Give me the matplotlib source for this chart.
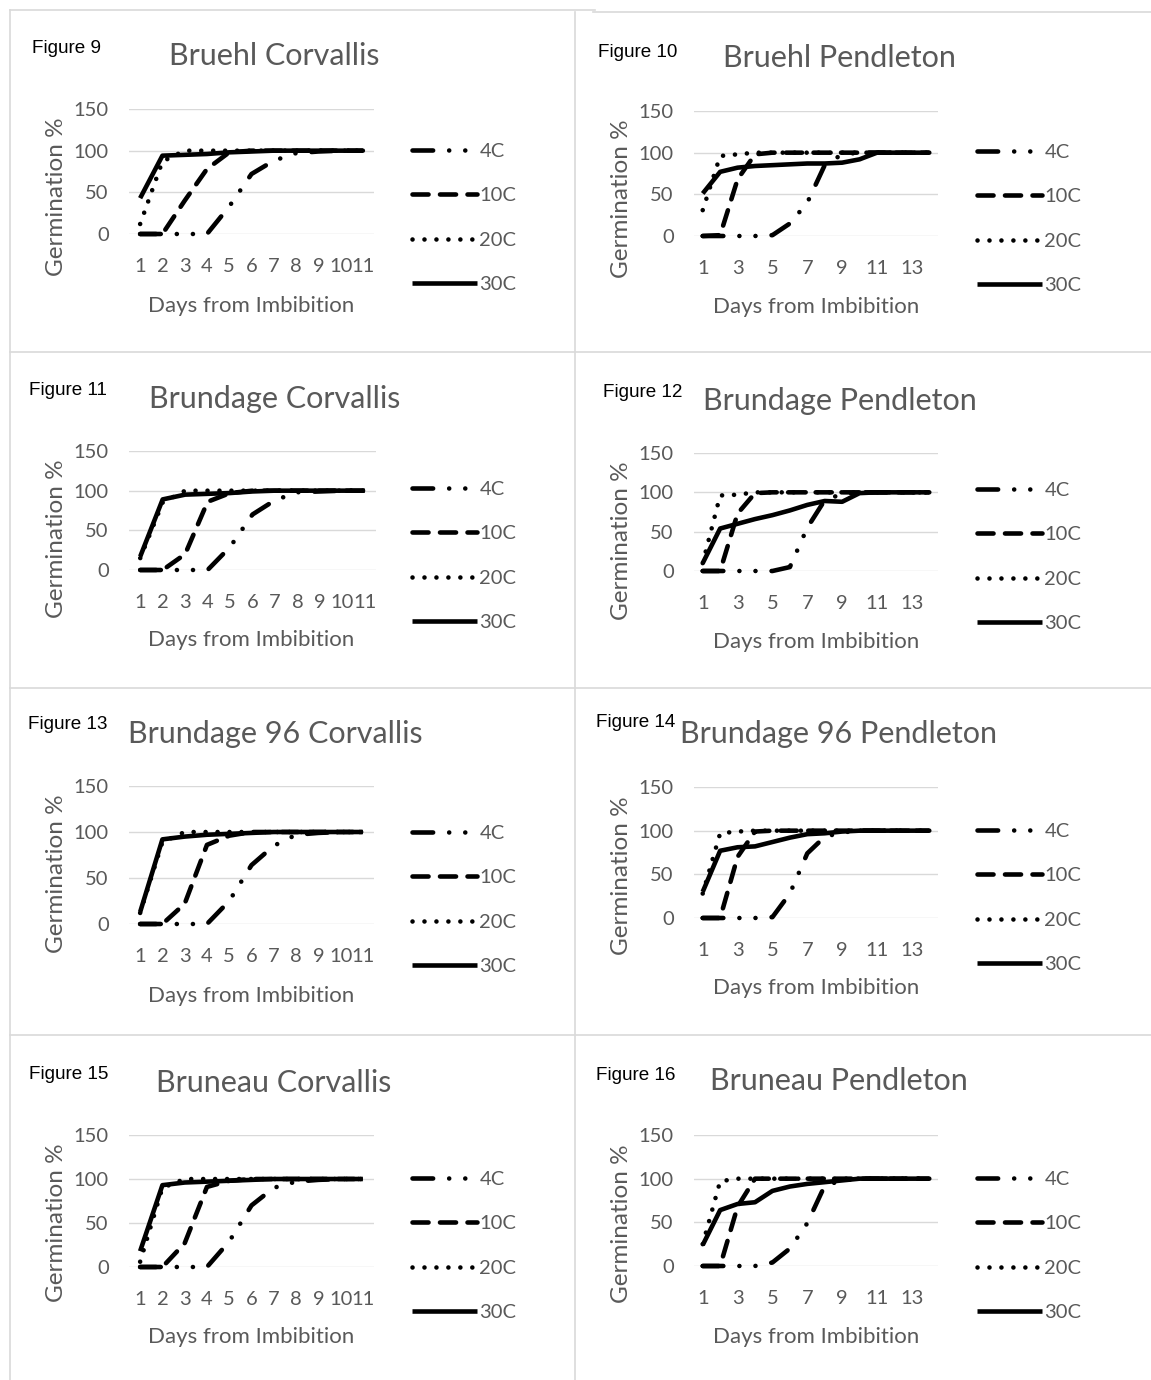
import matplotlib
matplotlib.use("Agg")
import matplotlib.pyplot as plt
from matplotlib.lines import Line2D

plt.rcParams['font.family'] = ['Lato', 'DejaVu Sans']

# ---------------- data ----------------
days_corvallis = list(range(1, 12))
days_pendleton = list(range(1, 15))
series_labels = ["4C", "10C", "20C", "30C"]
yticks = [0, 50, 100, 150]
xticks_corvallis = list(range(1, 12))
xticks_pendleton = [1, 3, 5, 7, 9, 11, 13]

fig9_4C = [0, 0, 0, 0, 33, 72, 88, 97, 99, 100, 100]
fig9_10C = [0, 0, 40, 78, 98, 100, 100, 100, 100, 100, 100]
fig9_20C = [12, 87, 100, 100, 100, 100, 100, 100, 100, 100, 100]
fig9_30C = [43, 94, 95, 96, 98, 99, 100, 100, 100, 100, 100]

fig10_4C = [0, 0, 0, 0, 1, 15, 40, 85, 98, 100, 100, 100, 100, 100]
fig10_10C = [0, 1, 68, 98, 100, 100, 100, 100, 100, 100, 100, 100, 100, 100]
fig10_20C = [31, 96, 98, 100, 100, 100, 100, 100, 100, 100, 100, 100, 100, 100]
fig10_30C = [51, 77, 82, 84, 85, 86, 87, 87, 88, 92, 100, 100, 100, 100]

fig11_4C = [0, 0, 0, 0, 29, 70, 88, 98, 99, 100, 100]
fig11_10C = [0, 0, 20, 86, 97, 100, 100, 100, 100, 100, 100]
fig11_20C = [15, 85, 100, 100, 100, 100, 100, 100, 100, 100, 100]
fig11_30C = [17, 89, 95, 96, 97, 99, 100, 100, 100, 100, 100]

fig12_4C = [0, 0, 0, 0, 0, 5, 55, 90, 98, 100, 100, 100, 100, 100]
fig12_10C = [0, 0, 73, 99, 100, 100, 100, 100, 100, 100, 100, 100, 100, 100]
fig12_20C = [10, 96, 97, 100, 100, 100, 100, 100, 100, 100, 100, 100, 100, 100]
fig12_30C = [10, 54, 60, 66, 71, 77, 84, 89, 88, 99, 100, 100, 100, 100]

fig13_4C = [0, 0, 0, 0, 25, 64, 85, 97, 99, 100, 100]
fig13_10C = [0, 0, 22, 86, 96, 100, 100, 100, 100, 100, 100]
fig13_20C = [12, 89, 100, 100, 100, 100, 100, 100, 100, 100, 100]
fig13_30C = [13, 92, 95, 97, 98, 99, 100, 100, 100, 100, 100]

fig14_4C = [0, 0, 0, 0, 1, 28, 74, 93, 98, 100, 100, 100, 100, 100]
fig14_10C = [0, 0, 70, 99, 100, 100, 100, 100, 100, 100, 100, 100, 100, 100]
fig14_20C = [28, 97, 99, 100, 100, 100, 100, 100, 100, 100, 100, 100, 100, 100]
fig14_30C = [30, 77, 81, 82, 87, 92, 96, 97, 99, 100, 100, 100, 100, 100]

fig15_4C = [0, 0, 0, 0, 29, 70, 90, 97, 99, 100, 100]
fig15_10C = [0, 0, 27, 91, 98, 100, 100, 100, 100, 100, 100]
fig15_20C = [6, 90, 100, 100, 100, 100, 100, 100, 100, 100, 100]
fig15_30C = [18, 93, 96, 97, 98, 99, 100, 100, 100, 100, 100]

fig16_4C = [0, 0, 0, 0, 4, 20, 49, 92, 98, 100, 100, 100, 100, 100]
fig16_10C = [0, 0, 68, 100, 100, 100, 100, 100, 100, 100, 100, 100, 100, 100]
fig16_20C = [25, 97, 100, 100, 100, 100, 100, 100, 100, 100, 100, 100, 100, 100]
fig16_30C = [24, 64, 71, 73, 86, 91, 94, 96, 98, 100, 100, 100, 100, 100]

figure_labels = ["Figure 9", "Figure 10", "Figure 11", "Figure 12",
                 "Figure 13", "Figure 14", "Figure 15", "Figure 16"]
titles = ["Bruehl Corvallis", "Bruehl Pendleton", "Brundage Corvallis",
          "Brundage Pendleton", "Brundage 96 Corvallis", "Brundage 96 Pendleton",
          "Bruneau Corvallis", "Bruneau Pendleton"]
series_data = [
    [fig9_4C, fig9_10C, fig9_20C, fig9_30C],
    [fig10_4C, fig10_10C, fig10_20C, fig10_30C],
    [fig11_4C, fig11_10C, fig11_20C, fig11_30C],
    [fig12_4C, fig12_10C, fig12_20C, fig12_30C],
    [fig13_4C, fig13_10C, fig13_20C, fig13_30C],
    [fig14_4C, fig14_10C, fig14_20C, fig14_30C],
    [fig15_4C, fig15_10C, fig15_20C, fig15_30C],
    [fig16_4C, fig16_10C, fig16_20C, fig16_30C],
]
xlabel_text = "Days from Imbibition"
ylabel_text = "Germination %"

# ---------------- layout (pixels) ----------------
W, H = 1151, 1380
fig = plt.figure(figsize=(W / 100, H / 100), dpi=100)

def fx(x):
    return x / W

def fy(y):
    return 1 - y / H

panels = [
    dict(x0=129, x1=374, yt=109, yb=234, flx=32, fly=53, tcx=274, tby=65, xlb=312, ylx=63, yly=197, lgy=218),
    dict(x0=694, x1=938, yt=111, yb=236, flx=598, fly=57, tcx=839, tby=67, xlb=313, ylx=628, yly=199, lgy=219),
    dict(x0=129, x1=376, yt=451, yb=570, flx=29, fly=395, tcx=275, tby=408, xlb=646, ylx=63, yly=539, lgy=556),
    dict(x0=694, x1=938, yt=453, yb=571, flx=603, fly=397, tcx=840, tby=410, xlb=648, ylx=628, yly=541, lgy=557),
    dict(x0=129, x1=374, yt=786, yb=924, flx=28, fly=729, tcx=275, tby=743, xlb=1002, ylx=63, yly=874, lgy=900),
    dict(x0=694, x1=938, yt=787, yb=918, flx=596, fly=727, tcx=838, tby=743, xlb=994, ylx=628, yly=876, lgy=898),
    dict(x0=129, x1=374, yt=1135, yb=1267, flx=29, fly=1079, tcx=274, tby=1092, xlb=1343, ylx=63, yly=1223, lgy=1246),
    dict(x0=694, x1=938, yt=1135, yb=1266, flx=596, fly=1080, tcx=839, tby=1090, xlb=1343, ylx=628, yly=1224, lgy=1246),
]

GRAY_TXT = "#595959"
GRID = "#d9d9d9"
LW = 3.3
styles = [
    dict(linestyle=(0, (4.5, 3.5, 0.01, 3.5, 0.01, 3.5)), dash_capstyle='round'),
    dict(linestyle=(0, (3.5, 2.5)), dash_capstyle='round'),
    dict(linestyle=(0, (0.01, 2.6)), dash_capstyle='round'),
    dict(linestyle='-', solid_capstyle='butt'),
]

TICK_FS = 14.5
XLABEL_FS = 16
YLABEL_FS = 17.5
TITLE_FS = 22
FIGLABEL_FS = 13.6

for i, p in enumerate(panels):
    left_col = (i % 2 == 0)
    days = days_corvallis if left_col else days_pendleton
    ax = fig.add_axes([fx(p['x0']), fy(p['yb']), (p['x1'] - p['x0']) / W, (p['yb'] - p['yt']) / H])
    ax.set_xlim(0.5, len(days) + 0.5)
    ax.set_ylim(0, 150)
    ax.set_yticks(yticks)
    ax.set_xticks(xticks_corvallis if left_col else xticks_pendleton)
    for s in ax.spines.values():
        s.set_visible(False)
    ax.tick_params(length=0, labelsize=TICK_FS, labelcolor=GRAY_TXT)
    ax.tick_params(axis='y', pad=14.5)
    ax.tick_params(axis='x', pad=17.5)
    ax.grid(axis='y', color=GRID, linewidth=1.0)
    ax.set_axisbelow(True)
    handles = []
    for lab, vals, st in zip(series_labels, series_data[i], styles):
        ln, = ax.plot(days, vals, color='black', linewidth=LW, solid_joinstyle='round',
                      dash_joinstyle='round', clip_on=False, label=lab, **st)
        handles.append(ln)
    lx = 412 if left_col else 977
    ax.legend(handles=handles, loc='center left', bbox_to_anchor=(fx(lx), fy(p['lgy'])),
              bbox_transform=fig.transFigure, frameon=False, fontsize=TICK_FS,
              handlelength=65 / (TICK_FS * 100 / 72), handletextpad=0.12,
              labelspacing=1.36, borderpad=0, borderaxespad=0, labelcolor=GRAY_TXT)

    fig.text(fx(p['flx']), fy(p['fly']), figure_labels[i], family='Liberation Sans',
             fontsize=FIGLABEL_FS, color='black', ha='left', va='baseline', zorder=10,
             bbox=dict(facecolor='white', edgecolor='none', pad=1.0))
    fig.text(fx(p['tcx']), fy(p['tby']), titles[i], fontsize=TITLE_FS, color=GRAY_TXT,
             ha='center', va='baseline', zorder=5)
    xcx = 251 if left_col else 816
    fig.text(fx(xcx), fy(p['xlb']), xlabel_text, fontsize=XLABEL_FS, color=GRAY_TXT,
             ha='center', va='baseline')
    fig.text(fx(p['ylx']), fy(p['yly']), ylabel_text, fontsize=YLABEL_FS, color=GRAY_TXT,
             ha='center', va='baseline', rotation=90, rotation_mode='anchor')

# panel borders
def border(xs, ys):
    fig.add_artist(Line2D([fx(v) for v in xs], [fy(v) for v in ys], color=GRID,
                          linewidth=1.2, transform=fig.transFigure))

border([10, 595], [10, 10])
border([593, 1151], [12, 12])
border([10, 10], [10, 1380])
border([575, 575], [12, 1380])
border([10, 1151], [352, 352])
border([10, 1151], [688, 688])
border([10, 1151], [1035, 1035])

fig.savefig("out.png", dpi=100, facecolor='white')
